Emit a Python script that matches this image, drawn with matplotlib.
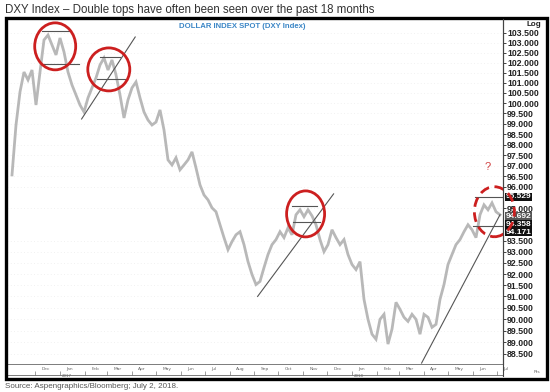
import matplotlib
matplotlib.use('Agg')
import matplotlib.pyplot as plt
import matplotlib.dates as mdates
from matplotlib.patches import Ellipse, Rectangle
from matplotlib.transforms import ScaledTranslation, blended_transform_factory
from matplotlib.ticker import FixedLocator, FixedFormatter, NullLocator
import pandas as pd

# ---------------- data ----------------
start_date = '2016-11-02'
step_days = 5
closes = [96.56, 98.94, 100.55, 101.53, 101.14, 101.63, 99.91, 101.53, 103.13, 103.38,
          102.88, 102.38, 103.23, 102.53, 101.53, 100.89, 100.40, 99.91, 99.57, 100.26,
          100.75, 101.24, 101.88, 102.23, 101.63, 102.13, 101.39, 100.40, 99.28, 100.16,
          100.75, 101.04, 100.26, 99.57, 99.18, 98.94, 99.08, 99.67, 98.70, 97.27,
          97.03, 97.37, 96.80, 97.03, 97.27, 97.65, 96.89, 96.09, 95.62, 95.39,
          95.02, 94.84, 94.24, 93.65, 93.10, 93.47, 93.78, 93.92, 93.33, 92.56,
          91.98, 91.53, 91.67, 92.29, 92.88, 93.33, 93.56, 93.92, 93.65, 94.10,
          93.78, 94.70, 94.93, 94.61, 94.93, 94.65, 94.24, 93.56, 93.01, 93.33,
          94.01, 93.65, 93.33, 93.56, 92.88, 92.43, 92.20, 92.56, 90.87, 89.99,
          89.34, 89.12, 89.99, 90.21, 88.91, 89.56, 90.74, 90.43, 90.08, 89.90,
          90.21, 89.99, 89.34, 90.21, 90.08, 89.64, 89.77, 90.87, 91.53, 92.43,
          92.88, 93.33, 93.56, 93.92, 94.24, 94.01, 93.65, 94.70, 95.16, 94.93,
          95.25, 94.84, 94.70]

ytick_values = [103.5, 103.0, 102.5, 102.0, 101.5, 101.0, 100.5, 100.0, 99.5, 99.0,
                98.5, 98.0, 97.5, 97.0, 96.5, 96.0, 95.0, 93.5, 93.0, 92.5, 92.0,
                91.5, 91.0, 90.5, 90.0, 89.5, 89.0, 88.5]
highlight_values = [95.529, 94.692, 94.358, 94.171]

circle_dates = ['2016-12-26', '2017-03-03', '2017-11-04', '2018-06-28']
circle_prices = [102.81, 101.66, 94.74, 94.84]

level_starts = ['2016-12-09', '2016-12-09', '2017-02-20', '2017-02-16',
                '2017-10-18', '2017-10-19', '2018-06-04', '2018-06-01']
level_ends = ['2017-01-13', '2017-01-25', '2017-03-17', '2017-03-26',
              '2017-11-18', '2017-11-22', '2018-07-09', '2018-07-09']
level_prices = [103.56, 101.93, 102.27, 101.19, 95.11, 94.38, 95.529, 94.171]

trend_start_dates = ['2017-01-28', '2017-09-05', '2018-03-29']
trend_start_prices = [99.23, 91.00, 88.09]
trend_end_dates = ['2017-04-05', '2017-12-09', '2018-07-05']
trend_end_prices = [103.28, 95.67, 94.70]

question_date = '2018-06-19'
question_price = 96.94

title = 'DXY Index \u2013 Double tops have often been seen over the past 18 months'
subtitle = 'DOLLAR INDEX SPOT (DXY Index)'
source = 'Source: Aspengraphics/Bloomberg; July 2, 2018.'

# ---------------- figure ----------------
W, H = 550, 392
fig = plt.figure(figsize=(W / 100, H / 100), dpi=100)
fig.patch.set_facecolor('white')

def fx(px):
    return px / W

def fy(py):
    return 1 - py / H

ax = fig.add_axes([fx(7), fy(364), fx(503) - fx(7), fy(20) - fy(364)])
ax2 = fig.add_axes([fx(7), fy(375), fx(503) - fx(7), fy(364) - fy(375)], sharex=ax)

dates = pd.date_range(start_date, periods=len(closes), freq=f'{step_days}D')
t0 = mdates.date2num(pd.Timestamp(start_date))

ax.set_yscale('log')
ax.set_ylim(88.05, 104.14)
ax.set_xlim(t0 - 6.25, t0 + 613.75)

ax.plot(dates, closes, color='#b8b8b8', lw=2.0, solid_joinstyle='miter', zorder=2)

# y axis on right
ax.yaxis.tick_right()
ax.yaxis.set_major_locator(FixedLocator(ytick_values))
ax.yaxis.set_major_formatter(FixedFormatter([f'{v:.3f}' for v in ytick_values]))
ax.yaxis.set_minor_locator(NullLocator())
ax.tick_params(axis='y', which='major', length=2, width=0.6, pad=1,
               labelsize=6.3, colors='#222222')
for lab in ax.get_yticklabels():
    lab.set_fontweight('bold')
    lab.set_fontfamily(['Liberation Sans', 'DejaVu Sans'])
ax.tick_params(axis='x', which='both', bottom=False, labelbottom=False)
ax.grid(axis='y', color='#ececec', linestyle=(0, (1, 3)), lw=0.6)

for s in ['top', 'left', 'bottom']:
    ax.spines[s].set_visible(False)
ax.spines['right'].set_color('#444444')
ax.spines['right'].set_linewidth(0.8)

# highlighted values, stacked below the nearest tick label like the terminal does
btrans = blended_transform_factory(ax.transAxes, ax.transData)
hl_bg = ['#111111', '#555555', '#111111', '#111111']
disp = [ax.transData.transform((t0, v))[1] for v in highlight_values]
tick_disp = [ax.transData.transform((t0, v))[1] for v in ytick_values]
min_gap = 8.0
for i in range(1, len(disp)):
    if disp[i - 1] - disp[i] < min_gap:
        disp[i] = disp[i - 1] - min_gap
    above = [t for t in tick_disp if t >= disp[i] and t - disp[i] < min_gap]
    if above:
        disp[i] = min(above) - min_gap
        for j in range(i + 1, len(disp)):
            pass
label_pos = [ax.transData.inverted().transform((0, d))[1] for d in disp]
for v, yp, bg in zip(highlight_values, label_pos, hl_bg):
    ax.text(1.005, yp, f'{v:.3f}', transform=btrans, fontsize=6.0, fontweight='bold',
            color='white', va='center', ha='left', family=['Liberation Sans', 'DejaVu Sans'],
            bbox=dict(boxstyle='square,pad=0.06', fc=bg, ec='none'), zorder=5, clip_on=False)

# level lines and trend lines
for s, e, p in zip(level_starts, level_ends, level_prices):
    ax.plot([pd.Timestamp(s), pd.Timestamp(e)], [p, p], color='#555555', lw=0.8, zorder=3,
            clip_on=False)
for sd, sp, ed, ep in zip(trend_start_dates, trend_start_prices, trend_end_dates, trend_end_prices):
    ax.plot([pd.Timestamp(sd), pd.Timestamp(ed)], [sp, ep], color='#555555', lw=0.8, zorder=3)

# circles
circle_w = [41, 42, 38, 40]
circle_h = [47, 43, 46, 50]
circle_ls = ['-', '-', '-', (0, (3.5, 2))]
for d, p, w, h, ls in zip(circle_dates, circle_prices, circle_w, circle_h, circle_ls):
    xd = mdates.date2num(pd.Timestamp(d))
    tr = fig.dpi_scale_trans + ScaledTranslation(xd, p, ax.transData)
    e = Ellipse((0, 0), w / 100, h / 100, transform=tr, fill=False,
                edgecolor='#cc1f1f', lw=2.0, linestyle=ls, zorder=6, clip_on=False)
    ax.add_artist(e)

ax.text(pd.Timestamp(question_date), question_price, '?', color='#d04040', fontsize=8,
        ha='center', va='center', family=['Liberation Sans', 'DejaVu Sans'])

# time strip
months = pd.date_range('2016-12-01', '2018-07-01', freq='MS')
ax2.set_ylim(0, 1)
ax2.set_yticks([])
ax2.xaxis.set_major_locator(FixedLocator(mdates.date2num(months)))
ax2.tick_params(axis='x', which='both', bottom=True, top=False, direction='in', length=3,
                width=0.5, colors='#777777', labelbottom=False)
for m in months:
    ax2.text(m + pd.Timedelta(days=8), 0.55, m.strftime('%b'), fontsize=3.2, color='#666666',
             ha='left', va='center')
    if m.month == 1:
        ax2.text(m + pd.Timedelta(days=2), -0.1, str(m.year), fontsize=2.8, color='#666666',
                 ha='left', va='center', clip_on=False)
for s in ['left', 'right']:
    ax2.spines[s].set_visible(False)
ax2.spines['top'].set_color('#666666')
ax2.spines['top'].set_linewidth(0.6)
ax2.spines['bottom'].set_color('#666666')
ax2.spines['bottom'].set_linewidth(0.6)

# separator and frame
fig.add_artist(plt.Line2D([fx(503), fx(503)], [fy(19), fy(376)], color='#444444', lw=0.8))
fig.add_artist(Rectangle((fx(6), fy(379)), fx(547) - fx(6), fy(18) - fy(379),
                         fill=False, edgecolor='black', lw=2.4, transform=fig.transFigure))

fig.text(fx(541), fy(24), 'Log', fontsize=5.8, fontweight='bold', ha='right', va='center',
         color='#222222', family=['Liberation Sans', 'DejaVu Sans'])
fig.text(fx(540), fy(372), 'Pts', fontsize=3.2, ha='right', va='center', color='#666666')
fig.text(fx(242), fy(27), subtitle, fontsize=5.6, fontweight='bold', ha='center', va='center',
         color='#3b86c6', family=['Liberation Sans', 'DejaVu Sans'])

fig.text(fx(5), fy(10), title, fontsize=8.3, ha='left', va='center', color='#333333',
         family=['Liberation Sans', 'DejaVu Sans'])
fig.text(fx(5), fy(386), source, fontsize=5.8, ha='left', va='center', color='#555555',
         family=['Liberation Sans', 'DejaVu Sans'])

fig.savefig('out.png', dpi=100, facecolor='white')
